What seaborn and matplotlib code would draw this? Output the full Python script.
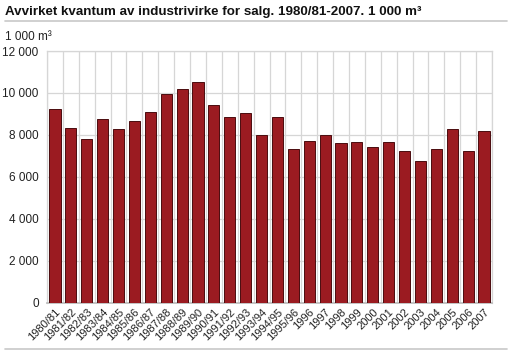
import numpy as np
import pandas as pd
import matplotlib
matplotlib.use("Agg")
import matplotlib.pyplot as plt
import seaborn as sns

# Data (1 000 m3)
seasons = ["1980/81", "1981/82", "1982/83", "1983/84", "1984/85", "1985/86",
           "1986/87", "1987/88", "1988/89", "1989/90", "1990/91", "1991/92",
           "1992/93", "1993/94", "1994/95", "1995/96", "1996", "1997", "1998",
           "1999", "2000", "2001", "2002", "2003", "2004", "2005", "2006", "2007"]
volume = [9220, 8340, 7780, 8760, 8290, 8670, 9080, 9970, 10190, 10520,
          9430, 8860, 9030, 8000, 8840, 7340, 7700, 8000, 7620, 7670,
          7430, 7650, 7230, 6750, 7310, 8260, 7240, 8180]
y_ticks = [0, 2000, 4000, 6000, 8000, 10000, 12000]
y_tick_labels = ["0", "2 000", "4 000", "6 000", "8 000", "10 000", "12 000"]

df = pd.DataFrame({"season": seasons, "volume": volume})

sns.set_theme(style="white")
plt.rcParams["font.family"] = ["Liberation Sans", "DejaVu Sans"]

fig = plt.figure(figsize=(5.12, 3.51), dpi=100)
ax = fig.add_axes([47 / 512, 1 - 302.5 / 351, 445 / 512, 251.5 / 351])

sns.barplot(data=df, x="season", y="volume", color="#9b1b21", width=0.7,
            edgecolor="#4a0c0e", linewidth=0.7, saturation=1, ax=ax, zorder=3)

ax.set_xlim(-0.5, len(seasons) - 0.5)
ax.set_ylim(0, 12000)
ax.set_yticks(y_ticks)
ax.set_yticklabels(y_tick_labels, fontsize=8.5, color="#222222")
ax.set_xticks(range(len(seasons)))
ax.set_xticklabels(seasons, rotation=45, ha="right", rotation_mode="anchor",
                   fontsize=8, color="#222222")
ax.tick_params(axis="y", length=0, pad=6)
ax.tick_params(axis="x", length=0, pad=3)
ax.set_xticks(np.arange(-0.5, len(seasons)), minor=True)
ax.tick_params(axis="x", which="minor", length=0)
ax.grid(True, axis="y", color="#d6d6d6", linewidth=0.9, zorder=0)
ax.grid(True, axis="x", which="minor", color="#d6d6d6", linewidth=0.9, zorder=0)
ax.set_xlabel("")
ax.set_ylabel("")
for s in ["left", "right", "top"]:
    ax.spines[s].set_color("#d6d6d6")
    ax.spines[s].set_linewidth(0.9)
ax.spines["bottom"].set_color("#bbbbbb")

fig.text(5 / 512, 1 - 12 / 351, "Avvirket kvantum av industrivirke for salg. 1980/81-2007. 1 000 m³",
         fontsize=9.6, fontweight="bold", va="center", ha="left", color="#111111")
fig.add_artist(plt.Line2D([5 / 512, 507 / 512], [1 - 21 / 351, 1 - 21 / 351],
                          color="#c8c8c8", linewidth=1.2))
fig.text(5 / 512, 1 - 37 / 351, "1 000 m³", fontsize=8.5, va="center", ha="left",
         color="#222222")
fig.add_artist(plt.Line2D([5 / 512, 507 / 512], [1 - 349 / 351, 1 - 349 / 351],
                          color="#c8c8c8", linewidth=1.2))

fig.savefig("out.png", dpi=100)
